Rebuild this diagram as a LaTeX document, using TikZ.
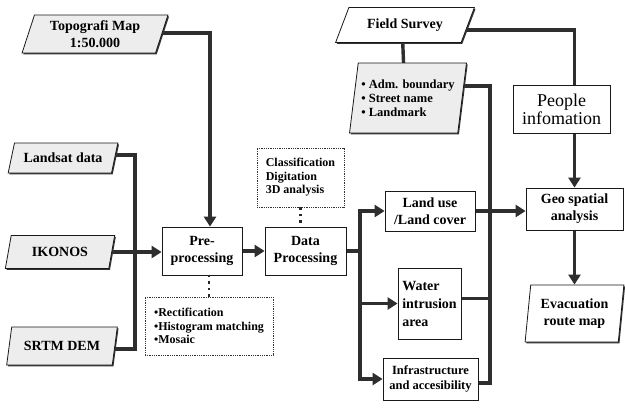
\documentclass[tikz,border=0pt]{standalone}
\usepackage{fontspec}
\setmainfont{Liberation Serif}
\usetikzlibrary{shapes.geometric,arrows.meta,calc,shadows}
\pgfdeclarelayer{bg}
\pgfsetlayers{bg,main}
\tikzset{
  base/.style={font=\bfseries\fontsize{14}{17}\selectfont, align=center, inner sep=1pt},
  shad/.style={general shadow={fill=black!80, shadow xshift=1.2pt, shadow yshift=-1.3pt}},
  box/.style={base, rectangle, draw=black!90, line width=0.8pt, fill=white, shad},
  para/.style={base, trapezium, trapezium stretches=true, draw=black!90, line width=0.8pt, fill=black!7, shad},
  dotbox/.style={rectangle, draw=black!80, densely dotted, line width=0.8pt, font=\bfseries\fontsize{12}{13.5}\selectfont, align=left, inner sep=0pt},
  conn/.style={line width=3.4pt, draw=black!82},
  arr/.style={conn, -{Triangle[length=10pt,width=12pt]}},
  dots/.style={line width=2.5pt, draw=black!85, dash pattern=on 2.5pt off 4pt},
}
\begin{document}
\begin{tikzpicture}[x=1pt,y=-1pt]
\useasboundingbox (0,0) rectangle (625,410);
% parallelograms
\node[para, trapezium left angle=72, trapezium right angle=108, minimum width=146pt, minimum height=38pt] (topo) at (95,34) {Topografi Map\\1:50.000};
\node[para, trapezium left angle=66, trapezium right angle=114, minimum width=110pt, minimum height=30pt] (landsat) at (63,158) {Landsat data};
\node[para, trapezium left angle=73, trapezium right angle=107, minimum width=110pt, minimum height=33pt] (ikonos) at (60,252) {IKONOS};
\node[para, trapezium left angle=71, trapezium right angle=109, minimum width=111pt, minimum height=38pt] (srtm) at (62,346) {SRTM DEM};
\node[para, trapezium left angle=58, trapezium right angle=122, minimum width=140pt, minimum height=35pt, fill=white] (field) at (405,25) {Field Survey};
\node[para, trapezium left angle=78, trapezium right angle=102, minimum width=117pt, minimum height=70pt, align=left, font=\bfseries\fontsize{12.5}{14.2}\selectfont] (adm) at (408,98) {• Adm. boundary\\• Street name\\• Landmark};
\node[para, trapezium left angle=82, trapezium right angle=98, minimum width=99pt, minimum height=57pt, fill=white] (evac) at (574.5,313.5) {Evacuation\\route map};
% boxes
\node[box, minimum width=80pt, minimum height=48pt] (pre) at (202,251) {Pre-\\processing};
\node[box, minimum width=81pt, minimum height=48pt] (data) at (305.5,251) {Data\\Processing};
\node[dotbox, minimum width=87pt, minimum height=59pt] (classif) at (300.5,177.5) {Classification\\Digitation\\3D analysis};
\node[dotbox, minimum width=128pt, minimum height=58pt] (rectif) at (209,326) {•Rectification\\•Histogram matching\\•Mosaic};
\node[box, minimum width=90pt, minimum height=40pt] (land) at (430,211) {Land use\\/Land cover};
\node[box, minimum width=63pt, minimum height=71pt, align=left, font=\bfseries\fontsize{14}{18}\selectfont] (water) at (429.5,303.5) {Water\\intrusion\\area};
\node[box, minimum width=95pt, minimum height=42pt, font=\bfseries\fontsize{12.5}{15}\selectfont] (infra) at (430.5,379) {Infrastructure\\and accesibility};
\node[box, minimum width=97pt, minimum height=48pt, font=\fontsize{18}{18}\selectfont] (people) at (561.5,109) {People\\infomation};
\node[box, minimum width=97pt, minimum height=42pt] (geo) at (574.5,209) {Geo spatial\\analysis};
% connectors
\coordinate (bl) at (135,0);
\coordinate (br) at (360,0);
\coordinate (bx) at (490,0);
\begin{pgfonlayer}{bg}
\draw[arr] ($(topo.center)+(0,-1)$) -| ($(pre.north)+(8,0)$);
\draw[conn] ($(landsat.center)+(0,-3)$) -| ($(bl |- srtm.center)+(0,3)$) -- ($(srtm.center)+(0,3)$);
\draw[arr] (ikonos.center) -- (ikonos.center -| pre.west);
\draw[arr] (pre.east) -- (data.west);
\draw[conn] (data.center) -- (data.center -| br);
\draw[arr] (data.center -| br) |- (land.west);
\draw[arr] (data.center -| br) |- (water.west);
\draw[arr] (data.center -| br) |- (infra.west);
\draw[conn] ($(adm.center)+(0,-12)$) -| ($(bx |- infra.center)+(0,4)$) -- ($(infra.center)+(0,4)$);
\draw[conn] ($(water.center)+(0,-5)$) -- ($(water.center -| bx)+(0,-5)$);
\draw[arr] (land.center) -- (land.center -| geo.west);
\draw[conn] ($(field.center)+(-3,0)$) -- ($(adm.center)+(-3,0)$);
\draw[conn] ($(field.center)+(0,5)$) -| (people.center -| geo.center);
\draw[arr] (people.south -| geo.north) -- (geo.north);
\draw[arr] (geo.south) -- (geo.south |- evac.north);
\end{pgfonlayer}
\draw[dots] (classif.south) -- (classif.south |- data.north);
\draw[dots] (rectif.north) -- (rectif.north |- pre.south);
\end{tikzpicture}
\end{document}
